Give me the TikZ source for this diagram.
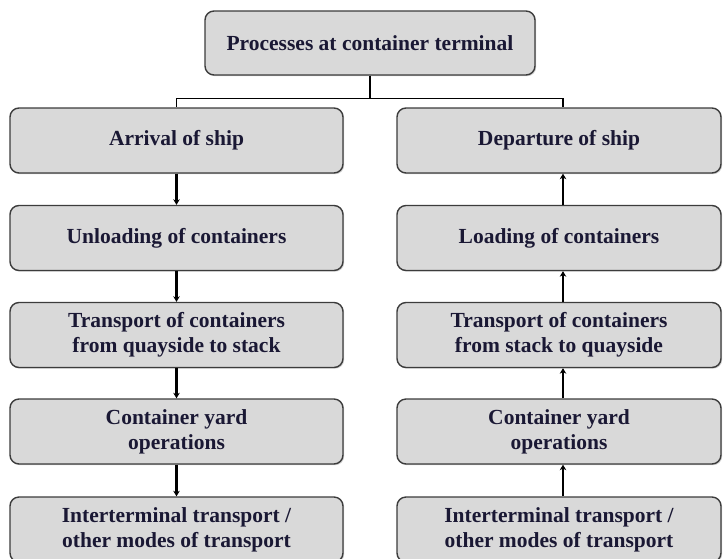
\documentclass[tikz,border=0pt]{standalone}
\usepackage{fontspec}
\setmainfont{Liberation Serif}
\usetikzlibrary{shadows,arrows.meta}

\definecolor{boxfill}{RGB}{217,217,217}
\definecolor{boxline}{RGB}{60,60,60}
\definecolor{boxtext}{RGB}{26,24,52}

\tikzset{
  stage/.style={draw=boxline, fill=boxfill, line width=1.4pt, rounded corners=9pt,
    minimum height=65pt, align=center, text=boxtext,
    font=\fontsize{21.5}{25}\selectfont\bfseries,
    drop shadow={shadow xshift=1.2pt, shadow yshift=-1.2pt, fill=black!35, opacity=0.5}},
  leftstage/.style={stage, minimum width=333pt},
  rightstage/.style={stage, minimum width=324pt},
  flow/.style={line width=2.4pt, -{Stealth[length=5.5pt,width=6.5pt]}}
}

\begin{document}
\begin{tikzpicture}[x=1pt, y=-1pt]
    \clip (0,0) rectangle (723,558);
    \fill[white] (0,0) rectangle (723,558);

    \node (terminal) [stage, minimum width=330pt, minimum height=64pt] at (370,43) {Processes at container terminal};

    % left column
    \node (arrival) [leftstage] at (176.5,140.5) {Arrival of ship};
    \node (unloading) [leftstage] at (176.5,238) {Unloading of containers};
    \node (transportin) [leftstage] at (176.5,335) {Transport of containers\\from quayside to stack};
    \node (yardin) [leftstage] at (176.5,431.5) {Container yard\\operations};
    \node (interin) [leftstage] at (176.5,529.5) {Interterminal transport /\\other modes of transport};

    % right column
    \node (departure) [rightstage] at (559,140.5) {Departure of ship};
    \node (loading) [rightstage] at (559,238) {Loading of containers};
    \node (transportout) [rightstage] at (559,335) {Transport of containers\\from stack to quayside};
    \node (yardout) [rightstage] at (559,431.5) {Container yard\\operations};
    \node (interout) [rightstage] at (559,529.5) {Interterminal transport /\\other modes of transport};

    \draw [line width=1.3pt] (terminal.south) -- ++(0,23) -| (arrival.north);
    \draw [line width=1.3pt] (terminal.south) -- ++(0,23) -| ([xshift=4pt]departure.north);

    \draw [flow] (arrival.south) -- (unloading.north);
    \draw [flow] (unloading.south) -- (transportin.north);
    \draw [flow] (transportin.south) -- (yardin.north);
    \draw [flow] (yardin.south) -- (interin.north);

    \draw [flow] ([xshift=4pt]loading.north) -- ([xshift=4pt]departure.south);
    \draw [flow] ([xshift=4pt]transportout.north) -- ([xshift=4pt]loading.south);
    \draw [flow] ([xshift=4pt]yardout.north) -- ([xshift=4pt]transportout.south);
    \draw [flow] ([xshift=4pt]interout.north) -- ([xshift=4pt]yardout.south);
\end{tikzpicture}
\end{document}
